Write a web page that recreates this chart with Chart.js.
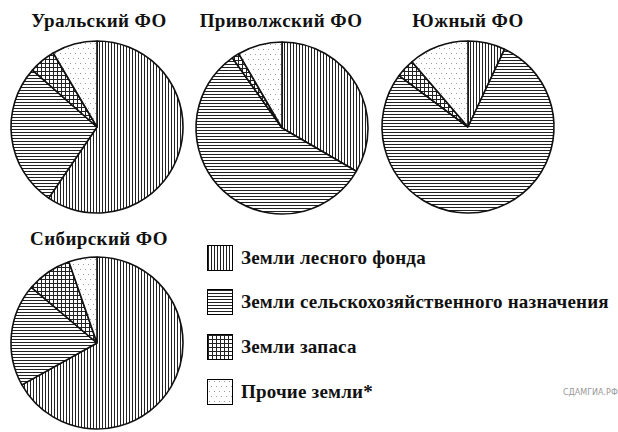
<!DOCTYPE html>
<html lang="ru">
<head>
<meta charset="UTF-8">
<title>Структура земельного фонда</title>
<script src="https://cdn.jsdelivr.net/npm/chart.js"></script>
<style>
  body { margin: 0; width: 618px; height: 432px; overflow: hidden; background: #fff; position: relative; }
  .pie { position: absolute; }
  .ttl { position: absolute; width: 200px; text-align: center; font: bold 19px "Liberation Serif", serif; letter-spacing: 0.4px; line-height: 19px; color: #111; }
  .leg { position: absolute; left: 207px; font: bold 19px "Liberation Serif", serif; letter-spacing: 0.2px; color: #111; display: flex; align-items: center; white-space: nowrap; }
  .leg canvas { border: 1px solid #000; margin-right: 8px; }
  .wm { position: absolute; left: 563px; top: 388px; font: 8px "DejaVu Sans", sans-serif; color: #999; white-space: nowrap; }
</style>
</head>
<body>

<div class="ttl" style="left:-1px; top:11px">Уральский ФО</div>
<div class="ttl" style="left:181px; top:11px">Приволжский ФО</div>
<div class="ttl" style="left:368px; top:11px">Южный ФО</div>
<div class="ttl" style="left:-1px; top:229px">Сибирский ФО</div>

<canvas class="pie" id="ural" width="200" height="200" style="left:-3px; top:27px"></canvas>
<canvas class="pie" id="volga" width="200" height="200" style="left:182px; top:28px"></canvas>
<canvas class="pie" id="south" width="200" height="200" style="left:368px; top:27px"></canvas>
<canvas class="pie" id="sib" width="200" height="200" style="left:-3px; top:243px"></canvas>

<div id="legend"></div>
<div class="wm">СДАМГИА.РФ</div>

<script>
  // категории земель
  const categories = ['Земли лесного фонда', 'Земли сельскохозяйственного назначения', 'Земли запаса', 'Прочие земли*'];

  // доли, % (по часовой стрелке от 12 часов)
  const ural  = [59.5, 27.0, 5.0, 8.5];
  const volga = [33.4, 56.8, 1.4, 8.4];
  const south = [7.0, 78.2, 3.5, 11.3];
  const sib   = [66.9, 19.3, 8.5, 5.3];

  // штриховки
  function tile(kind) {
    const c = document.createElement('canvas');
    const g = c.getContext('2d');
    if (kind === 0) {          // вертикальные линии
      c.width = 3; c.height = 1;
      g.fillStyle = '#fff'; g.fillRect(0, 0, 3, 1);
      g.fillStyle = '#222'; g.fillRect(0, 0, 1, 1);
    } else if (kind === 1) {   // горизонтальные линии
      c.width = 1; c.height = 3;
      g.fillStyle = '#fff'; g.fillRect(0, 0, 1, 3);
      g.fillStyle = '#222'; g.fillRect(0, 0, 1, 1);
    } else if (kind === 2) {   // сетка
      c.width = 4; c.height = 4;
      g.fillStyle = '#fff'; g.fillRect(0, 0, 4, 4);
      g.fillStyle = '#222'; g.fillRect(0, 0, 4, 1); g.fillRect(0, 0, 1, 4);
    } else {                   // точки
      c.width = 10; c.height = 10;
      g.fillStyle = '#fff'; g.fillRect(0, 0, 10, 10);
      g.fillStyle = '#9a9a9a';
      g.fillRect(1, 1, 1, 1); g.fillRect(6, 1, 1, 1);
      g.fillRect(3, 6, 1, 1); g.fillRect(8, 6, 1, 1);
    }
    return c;
  }
  const tiles = [tile(0), tile(1), tile(2), tile(3)];

  function pie(id, values) {
    new Chart(document.getElementById(id), {
      type: 'pie',
      data: {
        labels: categories,
        datasets: [{
          data: values,
          backgroundColor: ctx => ctx.chart.ctx.createPattern(tiles[ctx.dataIndex], 'repeat'),
          borderColor: '#111',
          borderWidth: 1.6
        }]
      },
      options: {
        responsive: false,
        animation: false,
        radius: 86,
        layout: { padding: 0 },
        plugins: { legend: { display: false }, tooltip: { enabled: false } }
      }
    });
  }

  pie('ural', ural);
  pie('volga', volga);
  pie('south', south);
  pie('sib', sib);

  // легенда
  const legTops = [245, 289, 334, 379];
  const legend = document.getElementById('legend');
  categories.forEach((name, i) => {
    const row = document.createElement('div');
    row.className = 'leg';
    row.style.top = legTops[i] + 'px';
    const sw = document.createElement('canvas');
    sw.width = 24; sw.height = 24;
    const g = sw.getContext('2d');
    g.fillStyle = g.createPattern(tiles[i], 'repeat');
    g.fillRect(0, 0, 24, 24);
    row.appendChild(sw);
    row.appendChild(document.createTextNode(name));
    legend.appendChild(row);
  });
</script>
</body>
</html>
